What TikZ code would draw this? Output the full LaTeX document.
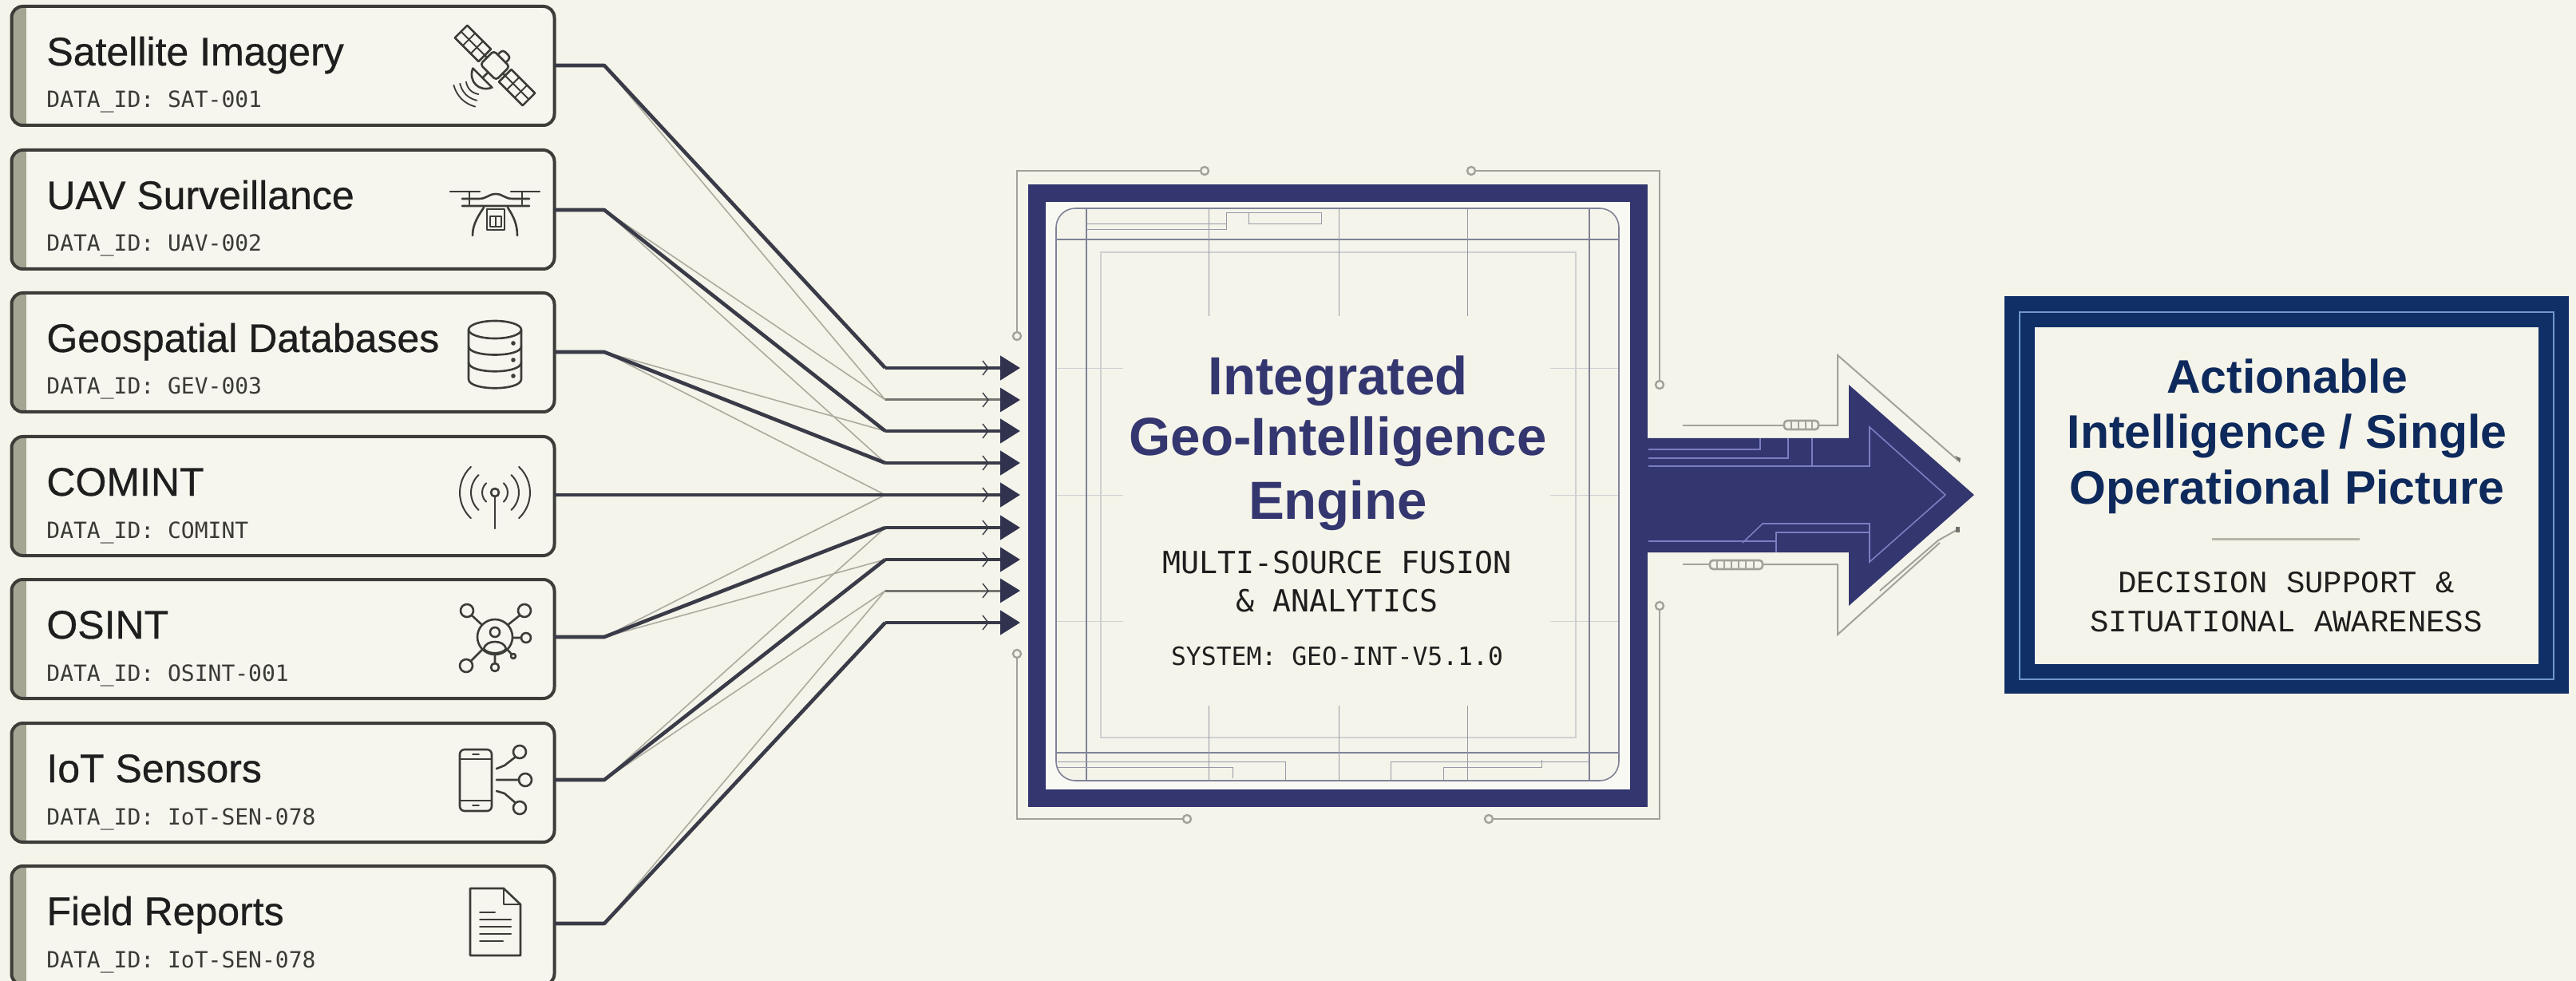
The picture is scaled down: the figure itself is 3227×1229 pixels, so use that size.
\documentclass[tikz,border=0pt]{standalone}
\usepackage{fontspec}
\usetikzlibrary{arrows.meta}
\setmainfont{Liberation Sans}
\newfontfamily\titlefont[FakeBold=0.6]{Liberation Sans}
\newfontfamily\headfont{Liberation Sans Bold}
\newfontfamily\monofont{DejaVu Sans Mono}
\newfontfamily\monofontb{Liberation Mono}
\definecolor{bgc}{HTML}{F5F4EA}
\definecolor{boxfill}{HTML}{F6F6EE}
\definecolor{boxline}{HTML}{3C3C38}
\definecolor{barc}{HTML}{A5A594}
\definecolor{inkc}{HTML}{1E1E1E}
\definecolor{monoc}{HTML}{3A3A36}
\definecolor{connc}{HTML}{3A3B48}
\definecolor{headc}{HTML}{30324E}
\definecolor{thinc}{HTML}{ABABA0}
\definecolor{midc}{HTML}{74756F}
\definecolor{engc}{HTML}{33366F}
\definecolor{engin}{HTML}{F9F9F3}
\definecolor{gridd}{HTML}{7F8298}
\definecolor{gridm}{HTML}{9799A8}
\definecolor{gridl}{HTML}{CFD0D2}
\definecolor{tracec}{HTML}{A2A29C}
\definecolor{arrowl}{HTML}{7C7EC2}
\definecolor{navy}{HTML}{0F2F66}
\definecolor{navyt}{HTML}{0E2A5C}
\definecolor{navyl}{HTML}{7298CC}
\definecolor{rulec}{HTML}{B5B5AA}
\tikzset{
  x=0.5pt,y=-0.5pt,
  srcbox/.style={draw=boxline,line width=2pt,rounded corners=7pt,minimum width=340pt,minimum height=74.5pt,inner sep=0pt,outer sep=0pt},
  srctitle/.style={anchor=base west,inner sep=0pt,text=inkc,font=\titlefont\fontsize{25pt}{25pt}\selectfont},
  srcsub/.style={anchor=base west,inner sep=0pt,text=monoc,font=\monofont\fontsize{14pt}{14pt}\selectfont},
  thick conn/.style={draw=connc,line width=2.3pt,line join=round},
  thin conn/.style={draw=thinc,line width=0.8pt},
  row head/.style={-{Triangle[length=12.5pt,width=15pt,color=headc]}},
  mid conn/.style={draw=midc,line width=1.5pt},
  chev/.style={draw=connc,line width=0.7pt},
  icon/.style={draw=boxline,line width=1.3pt,line cap=round,line join=round},
  trace/.style={draw=tracec,line width=1.3pt},
  pad/.style={draw=tracec,line width=1.2pt,fill=bgc},
  griddark/.style={draw=gridd,line width=0.8pt},
  gridmid/.style={draw=gridm,line width=0.5pt},
  gridlight/.style={draw=gridl,line width=0.6pt},
  arrline/.style={draw=arrowl,line width=0.8pt},
  engt/.style={anchor=base,inner sep=0pt,text=engc,font=\headfont\fontsize{33.6pt}{33.6pt}\selectfont},
  engm/.style={anchor=base,inner sep=0pt,text=inkc,font=\monofont\fontsize{19.1pt}{19.1pt}\selectfont},
  engs/.style={anchor=base,inner sep=0pt,text=inkc,font=\monofont\fontsize{15.7pt}{15.7pt}\selectfont},
  outt/.style={anchor=base,inner sep=0pt,text=navyt,font=\headfont\fontsize{29.5pt}{29.5pt}\selectfont},
  outm/.style={anchor=base,inner sep=0pt,text=inkc,font=\monofontb\fontsize{19.5pt}{19.5pt}\selectfont},
}
\begin{document}
\begin{tikzpicture}
\fill[bgc] (0,0) rectangle (3227,1229);
\useasboundingbox (0,0) rectangle (3227,1229);
\clip (0,0) rectangle (3227,1229);

% ---------- source boxes
\foreach \n/\t in {1/8,2/188,3/367,4/547,5/726,6/906,7/1085}{
  \begin{scope}
    \clip[rounded corners=7pt] (14,\t) rectangle (695,\t+149);
    \fill[boxfill] (14,\t) rectangle (695,\t+149);
    \fill[barc] (14,\t) rectangle (33,\t+149);
  \end{scope}
  \node[srcbox] (s\n) at (354.5,\t+74.5) {};
}
\node[srctitle] (t1) at (58,82) {Satellite Imagery};
\node[srcsub] (d1) at (58,135) {DATA\_ID: SAT-001};
\node[srctitle] (t2) at (58,262) {UAV Surveillance};
\node[srcsub] (d2) at (58,315) {DATA\_ID: UAV-002};
\node[srctitle] (t3) at (58,441) {Geospatial Databases};
\node[srcsub] (d3) at (58,494) {DATA\_ID: GEV-003};
\node[srctitle] (t4) at (58,621) {COMINT};
\node[srcsub] (d4) at (58,674) {DATA\_ID: COMINT};
\node[srctitle] (t5) at (58,800) {OSINT};
\node[srcsub] (d5) at (58,853) {DATA\_ID: OSINT-001};
\node[srctitle] (t6) at (58,980) {IoT Sensors};
\node[srcsub] (d6) at (58,1033) {DATA\_ID: IoT-SEN-078};
\node[srctitle] (t7) at (58,1159) {Field Reports};
\node[srcsub] (d7) at (58,1212) {DATA\_ID: IoT-SEN-078};

% ---------- icons
% satellite
\begin{scope}[shift={(620,82)},rotate=-45]
  \foreach \a/\b in {-60/-18,18/60}{
    \draw[icon] (\a,-11) rectangle (\b,11);
    \draw[icon,line width=0.9pt] (\a+14,-11) -- (\a+14,11) (\a+28,-11) -- (\a+28,11) (\a,0) -- (\b,0);
  }
  \draw[icon] (-18,0) -- (-14,0) (14,0) -- (18,0);
  \draw[icon,rounded corners=2pt] (-14,-12) rectangle (14,12);
  \draw[icon,rounded corners=2pt] (-7,-12) -- (-7,-21) -- (7,-21) -- (7,-12);
  \draw[icon] (0,12) -- (0,22);
  \draw[icon] (-17,22) .. controls (-10,38) and (10,38) .. (17,22) -- cycle;
  \draw[icon,line width=0.9pt] (-11,40) .. controls (-4,45) and (4,45) .. (11,40);
  \draw[icon,line width=0.9pt] (-15,47) .. controls (-5,53) and (5,53) .. (15,47);
  \draw[icon,line width=0.9pt] (-19,54) .. controls (-7,61) and (7,61) .. (19,54);
\end{scope}
% drone
\draw[icon] (564,240) -- (601,240) (640,240) -- (676,240) (588,240) -- (588,256) (654,240) -- (654,256);
\draw[icon] (579,258) -- (663,258) (579,249) -- (600,249) .. controls (610,249) and (612,243) .. (621,243) .. controls (630,243) and (632,249) .. (642,249) -- (663,249);
\draw[icon] (606,260) .. controls (598,272) and (592,282) .. (592,295);
\draw[icon] (636,260) .. controls (644,272) and (648,282) .. (648,295);
\draw[icon] (610,262) rectangle (632,288);
\draw[icon,line width=0.9pt] (614,271) rectangle (628,284) (621,271) -- (621,284);
% database
\draw[icon] (587,413) -- (587,475) .. controls (587,490) and (653,490) .. (653,475) -- (653,413);
\draw[icon] (620,413) ellipse (33 and 11);
\draw[icon] (587,434) .. controls (587,448) and (653,448) .. (653,434);
\draw[icon] (587,454) .. controls (587,469) and (653,469) .. (653,454);
\fill[boxline] (643,430) circle (2.8) (643,451) circle (2.8) (643,471) circle (2.8);
% antenna
\draw[icon] (620,622) -- (620,662);
\draw[icon] (620,617) circle (5);
\foreach \r in {16,30,44}{
  \draw[icon,line width=1pt] ({620+\r*cos(-47)},{617+\r*sin(-47)}) arc (-47:47:\r);
  \draw[icon,line width=1pt] ({620-\r*cos(47)},{617-\r*sin(47)}) arc (227:133:\r);
}
% osint
\begin{scope}[shift={(0,-2)}]
\draw[icon] (620,800) circle (22);
\draw[icon] (585,767) circle (8) (657,767) circle (8) (659,801) circle (6) (584,836) circle (8) (620,838) circle (5) (643,824) circle (3);
\draw[icon] (591,773) -- (604,785) (651,773) -- (636,785) (642,801) -- (653,801) (590,830) -- (604,816) (620,822) -- (620,833) (636,816) -- (641,822);
\draw[icon] (620,794) circle (6);
\draw[icon] (606,815) .. controls (608,803) and (632,803) .. (634,815) .. controls (628,822) and (612,822) .. (606,815);
\end{scope}
% iot
\begin{scope}[shift={(0,-3)}]
\draw[icon,rounded corners=3pt] (576,942) rectangle (616,1019);
\draw[icon,line width=0.9pt] (576,954) -- (616,954) (576,1006) -- (616,1006) (592,948) -- (600,948) (592,1012) -- (600,1012);
\draw[icon] (651,945) circle (8) (658,980) circle (8) (651,1015) circle (8);
\draw[icon] (622,966) -- (632,962) -- (646,951) (622,980) -- (650,980) (622,994) -- (632,997) -- (646,1009);
\end{scope}
% document
\begin{scope}[shift={(0,-4)}]
\draw[icon] (589,1117) -- (631,1117) -- (652,1137) -- (652,1201) -- (589,1201) -- cycle;
\draw[icon] (631,1117) -- (631,1137) -- (652,1137);
\draw[icon,line width=1pt] (601,1147) -- (620,1147) (601,1156) -- (640,1156) (601,1165) -- (640,1165) (601,1174) -- (640,1174) (601,1183) -- (630,1183);
\end{scope}

% ---------- connector way-points
\foreach \n/\y in {1/461,2/501,3/540,4/580,5/620,6/661,7/701,8/740,9/780}{
  \coordinate (kn\n) at (1109,\y);
  \coordinate (in\n) at (1278,\y);
}
\foreach \n/\y in {1/82,2/263,3/441,5/798,6/977,7/1157}{
  \coordinate (el\n) at (757,\y);
}

% thin fan lines
\draw[thin conn] (el1) -- (kn2);
\draw[thin conn] (el2) -- (kn2);
\draw[thin conn] (el2) -- (kn4);
\draw[thin conn] (el3) -- (kn3);
\draw[thin conn] (el3) -- (kn5);
\draw[thin conn] (el5) -- (kn5);
\draw[thin conn] (el5) -- (kn7);
\draw[thin conn] (el6) -- (kn6);
\draw[thin conn] (el6) -- (kn8);
\draw[thin conn] (el7) -- (kn8);

% thick connectors
\draw[thick conn] (s1.east |- el1) -- (el1) -- (kn1);
\draw[thick conn] (s2.east |- el2) -- (el2) -- (kn3);
\draw[thick conn] (s3.east |- el3) -- (el3) -- (kn4);
\draw[thick conn] (s5.east |- el5) -- (el5) -- (kn6);
\draw[thick conn] (s6.east |- el6) -- (el6) -- (kn7);
\draw[thick conn] (s7.east |- el7) -- (el7) -- (kn9);
\draw[thick conn,row head] (s4.east |- in5) -- (in5);
\foreach \n in {1,3,4,6,7,9}{
  \draw[thick conn,row head] (kn\n) -- (in\n);
}
\foreach \n in {2,8}{
  \draw[mid conn,row head] (kn\n) -- (in\n);
}
\foreach \n/\y in {1/461,2/501,3/540,4/580,5/620,6/661,7/701,8/740,9/780}{
  \draw[chev] (1231,\y-9) -- (1238,\y) -- (1231,\y+9);
}

% ---------- circuit traces around the engine
\draw[trace] (1274,416) -- (1274,214) -- (1504,214);
\draw[pad] (1274,421) circle (5) (1509,214) circle (5);
\draw[trace] (1848,214) -- (2079,214) -- (2079,477);
\draw[pad] (1843,214) circle (5) (2079,482) circle (5);
\draw[trace] (1274,824) -- (1274,1026) -- (1482,1026);
\draw[pad] (1274,819) circle (5) (1487,1026) circle (5);
\draw[trace] (1870,1026) -- (2079,1026) -- (2079,764);
\draw[pad] (1865,1026) circle (5) (2079,759) circle (5);

% ---------- engine
\node[draw=engc,fill=engin,line width=11pt,minimum width=377pt,minimum height=379pt,inner sep=0pt,outer sep=0pt] (engine) at (1676,621) {};
% inner board
\fill[bgc,rounded corners=12pt] (1323,261) rectangle (2028,978);
\draw[gridlight] (1379,316) rectangle (1974,924);
\foreach \y in {461.5,620.5,778.5}{
  \draw[gridlight] (1323,\y) -- (1407,\y) (1942,\y) -- (2028,\y);
}
\draw[griddark] (1323,300) -- (2028,300) (1323,943) -- (2028,943);
\draw[griddark] (1361,261) -- (1361,978) (1991,261) -- (1991,978);
\foreach \x in {1514,1677,1838}{
  \draw[gridmid] (\x,261) -- (\x,396) (\x,884) -- (\x,978);
}
\draw[gridmid] (1361,280.5) -- (1536,280.5) (1361,287.5) -- (1536,287.5) -- (1536,267) -- (1655,267) -- (1655,280.5) -- (1564,280.5) -- (1564,267);
\draw[gridmid] (1325,961) -- (1544,961) -- (1544,975) (1325,954) -- (1610,954) -- (1610,977);
\draw[gridmid] (1742,977) -- (1742,954) -- (1991,954) (1808,977) -- (1808,961) -- (1931,961) -- (1931,952);
\draw[griddark,rounded corners=12pt] (1323,261) rectangle (2028,978);

\node[engt] (e1) at (1676,495) {Integrated};
\node[engt] (e2) at (1676,571) {Geo-Intelligence};
\node[engt] (e3) at (1676,650) {Engine};
\node[engm] (e4) at (1675,718) {MULTI-SOURCE FUSION};
\node[engm] (e5) at (1675,766) {\& ANALYTICS};
\node[engs] (e6) at (1675,833) {SYSTEM: GEO-INT-V5.1.0};

% ---------- big output arrow
\fill[engc] (engine.east |- 0,549) -- (2316,549) -- (2316,482) -- (2473,620) -- (2316,759) -- (2316,692) -- (engine.east |- 0,692) -- cycle;
\draw[arrline] (2065,563) -- (2205,563) -- (2205,549);
\draw[arrline] (2065,574) -- (2240,574) -- (2240,549);
\draw[arrline] (2270,549) -- (2270,584);
\draw[arrline] (2065,584) -- (2342,584) -- (2342,535) -- (2437,620) -- (2342,704) -- (2342,656) -- (2208,656) -- (2183,680);
\draw[arrline] (2342,667) -- (2225,667) -- (2225,692);
\draw[arrline] (2065,678) -- (2225,678);

\draw[trace] (2108,533) -- (2235,533);
\draw[trace,rounded corners=2pt] (2235,527) rectangle (2278,538);
\draw[trace,line width=0.8pt] (2244,527) -- (2244,538) (2253,527) -- (2253,538) (2262,527) -- (2262,538) (2270,527) -- (2270,538);
\draw[trace,line width=1pt] (2278,533) -- (2302,533) -- (2302,445) -- (2453,577);
\fill[tracec!70!black] (2449,571) -- (2456,574) -- (2455,580) -- cycle;
\draw[trace] (2108,707) -- (2142,707);
\draw[trace,rounded corners=2pt] (2142,702) rectangle (2208,713);
\draw[trace,line width=0.8pt] (2151,702) -- (2151,713) (2160,702) -- (2160,713) (2169,702) -- (2169,713) (2178,702) -- (2178,713) (2187,702) -- (2187,713) (2197,702) -- (2197,713);
\draw[trace,line width=1pt] (2208,707) -- (2302,707) -- (2302,795) -- (2430,680);
\draw[trace,line width=1pt] (2355,740) -- (2428,677) -- (2453,663);
\fill[tracec!70!black] (2450,660) rectangle (2455,667);

% ---------- output box
\node[fill=navy,minimum width=353.5pt,minimum height=249pt,inner sep=0pt,outer sep=0pt] (out) at (2864.5,620) {};
\draw[navyl,line width=1.2pt] (2530,391) rectangle (3199,851);
\fill[bgc] (2549,410) rectangle (3180,832);
\node[outt] (o1) at (2865,493) {Actionable};
\node[outt] (o2) at (2865,561) {Intelligence / Single};
\node[outt] (o3) at (2865,631) {Operational Picture};
\draw[rulec,line width=1.5pt] (2771,675) -- (2956,675);
\node[outm] (o4) at (2864,742) {DECISION SUPPORT \&};
\node[outm] (o5) at (2864,791) {SITUATIONAL AWARENESS};
\end{tikzpicture}
\end{document}
